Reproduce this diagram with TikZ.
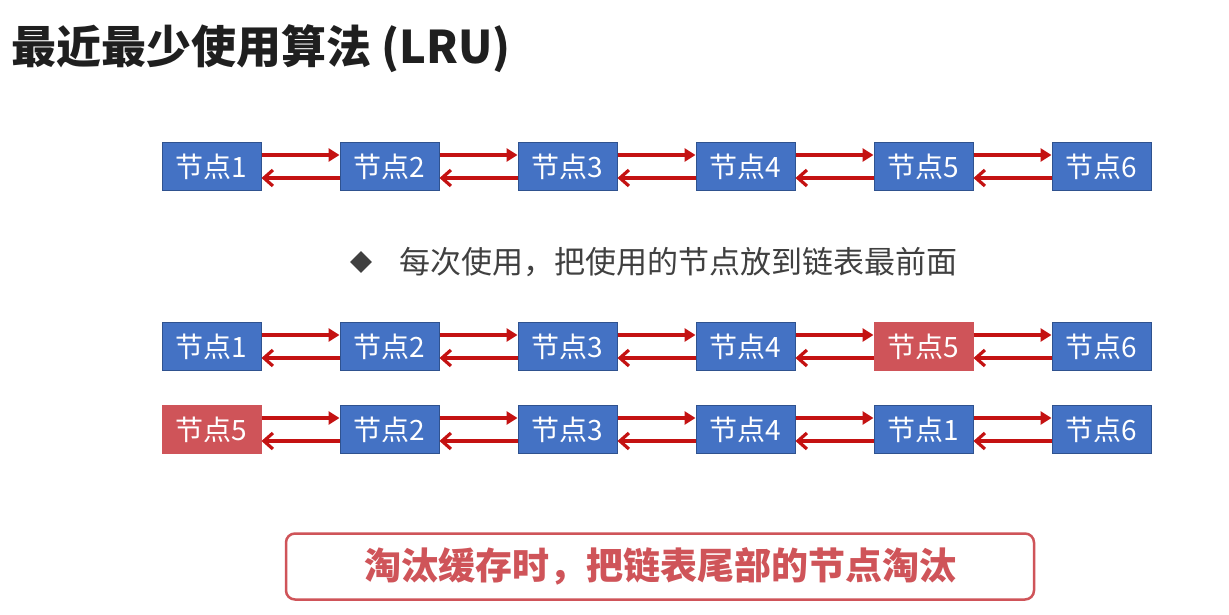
\documentclass[tikz,border=0pt]{standalone}
\usepackage{fontspec}
\setmainfont{Noto Sans CJK SC}
\usetikzlibrary{arrows.meta,shapes.geometric}
\definecolor{boxblue}{HTML}{4472C4}
\definecolor{boxblueline}{HTML}{2F528F}
\definecolor{boxred}{HTML}{CF5459}
\definecolor{arrred}{HTML}{C41212}
\definecolor{txtgray}{HTML}{404040}
\tikzset{
  nodebox/.style={draw=boxblueline,line width=1pt,fill=boxblue,text=white,
    minimum width=99pt,minimum height=48pt,inner sep=0pt,font=\fontsize{28pt}{30pt}\selectfont},
  hotbox/.style={nodebox,draw=boxred,fill=boxred},
  fwd/.style={draw=arrred,line width=3.2pt,-{Triangle[length=11pt,width=13pt]}},
  bwd/.style={draw=arrred,line width=3.2pt,-{Straight Barb[length=9pt,width=16pt,line width=3.2pt]}},
}
\newcommand{\linkpair}[2]{%
  \draw[fwd] ([yshift=11.5pt]#1.east) -- ([yshift=11.5pt]#2.west);
  \draw[bwd] ([yshift=-11.5pt]#2.west) -- ([yshift=-11.5pt]#1.east);}
\begin{document}
\begin{tikzpicture}[x=1pt,y=-1pt]
\useasboundingbox[fill=white] (0,0) rectangle (1229,615);
\node[anchor=west,font=\fontsize{45pt}{48pt}\selectfont\bfseries,text=black!88,inner sep=0pt] (title) at (11,49) {最近最少使用算法 (LRU)};
% row 1
\node[nodebox] (a1) at (211.5,166.5) {节点1};
\node[nodebox] (a2) at (389.5,166.5) {节点2};
\node[nodebox] (a3) at (567.5,166.5) {节点3};
\node[nodebox] (a4) at (745.5,166.5) {节点4};
\node[nodebox] (a5) at (923.5,166.5) {节点5};
\node[nodebox] (a6) at (1101.5,166.5) {节点6};
\linkpair{a1}{a2}\linkpair{a2}{a3}\linkpair{a3}{a4}\linkpair{a4}{a5}\linkpair{a5}{a6}
% bullet
\node[diamond,fill=txtgray,minimum width=22pt,minimum height=22pt,inner sep=0pt] (dia) at (361,262) {};
\node[anchor=west,text=txtgray,font=\fontsize{31pt}{33pt}\selectfont,inner sep=0pt] (bt) at (399,262) {每次使用，把使用的节点放到链表最前面};
% row 2
\node[nodebox] (b1) at (211.5,346.5) {节点1};
\node[nodebox] (b2) at (389.5,346.5) {节点2};
\node[nodebox] (b3) at (567.5,346.5) {节点3};
\node[nodebox] (b4) at (745.5,346.5) {节点4};
\node[hotbox] (b5) at (923.5,346.5) {节点5};
\node[nodebox] (b6) at (1101.5,346.5) {节点6};
\linkpair{b1}{b2}\linkpair{b2}{b3}\linkpair{b3}{b4}\linkpair{b4}{b5}\linkpair{b5}{b6}
% row 3
\node[hotbox] (c1) at (211.5,429.5) {节点5};
\node[nodebox] (c2) at (389.5,429.5) {节点2};
\node[nodebox] (c3) at (567.5,429.5) {节点3};
\node[nodebox] (c4) at (745.5,429.5) {节点4};
\node[nodebox] (c5) at (923.5,429.5) {节点1};
\node[nodebox] (c6) at (1101.5,429.5) {节点6};
\linkpair{c1}{c2}\linkpair{c2}{c3}\linkpair{c3}{c4}\linkpair{c4}{c5}\linkpair{c5}{c6}
% bottom note
\node[draw=boxred,line width=2.5pt,rounded corners=9pt,fill=white,minimum width=748pt,minimum height=66pt,
  text=boxred,font=\fontsize{37pt}{39pt}\selectfont\bfseries] (note) at (660,566.5) {淘汰缓存时，把链表尾部的节点淘汰};
\end{tikzpicture}
\end{document}
